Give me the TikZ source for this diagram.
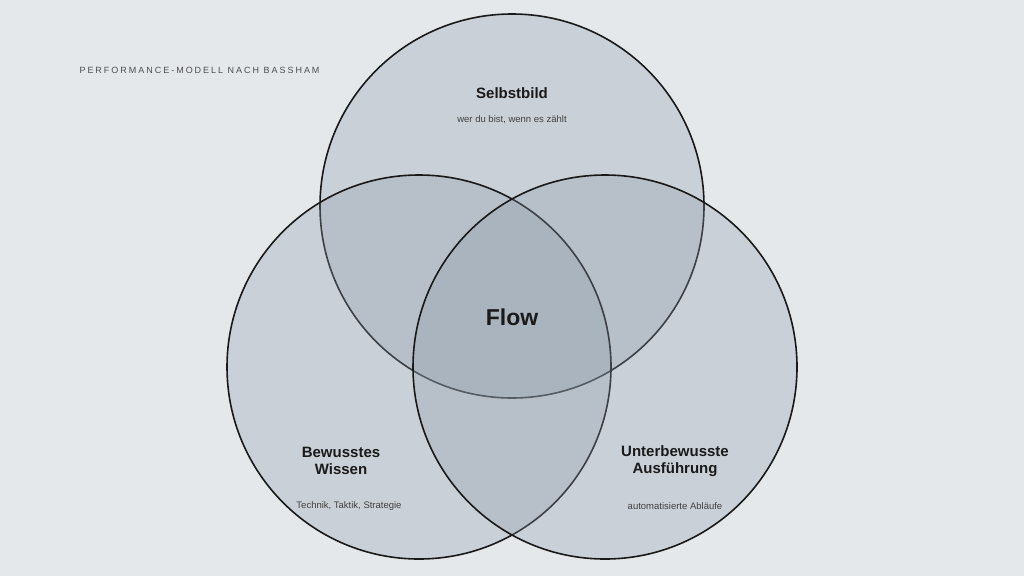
\documentclass[tikz,border=0pt]{standalone}
\usepackage{fontspec}
\setmainfont{Liberation Sans}
\newfontfamily\spaced[LetterSpace=22]{Liberation Sans}
\definecolor{bg}{HTML}{E5E8EB}
\definecolor{cf}{HTML}{8E9BAA}
\definecolor{tx}{HTML}{1A1A1A}
\begin{document}
\begin{tikzpicture}[x=1pt,y=-1pt,
  circ/.style={draw=black!90,line width=1.6pt,fill=cf,fill opacity=0.3},
  title/.style={font=\fontsize{15}{17}\selectfont\bfseries,text=tx,align=center},
  sub/.style={font=\fontsize{9.5}{11}\selectfont,text=black!75}]
\fill[bg] (0,0) rectangle (1024,576);
\useasboundingbox (0,0) rectangle (1024,576);
\path[circ] (512,206) circle (192);
\path[circ] (419,367) circle (192);
\path[circ] (605,367) circle (192);
\node[anchor=west,font=\spaced\fontsize{9}{10}\selectfont,text=black!70] (hd) at (76,70) {PERFORMANCE-MODELL NACH BASSHAM};
\node[title] (s) at (512,93) {Selbstbild};
\node[sub] (ss) at (512,120) {wer du bist, wenn es zählt};
\node[font=\fontsize{23}{26}\selectfont\bfseries,text=tx] (f) at (512,317) {Flow};
\node[title] (b) at (341,461) {Bewusstes\\Wissen};
\node[sub] (bs) at (349,506) {Technik, Taktik, Strategie};
\node[title] (u) at (675,461) {Unterbewusste\\Ausführung};
\node[sub] (us) at (675,506) {automatisierte Abläufe};
\end{tikzpicture}
\end{document}
